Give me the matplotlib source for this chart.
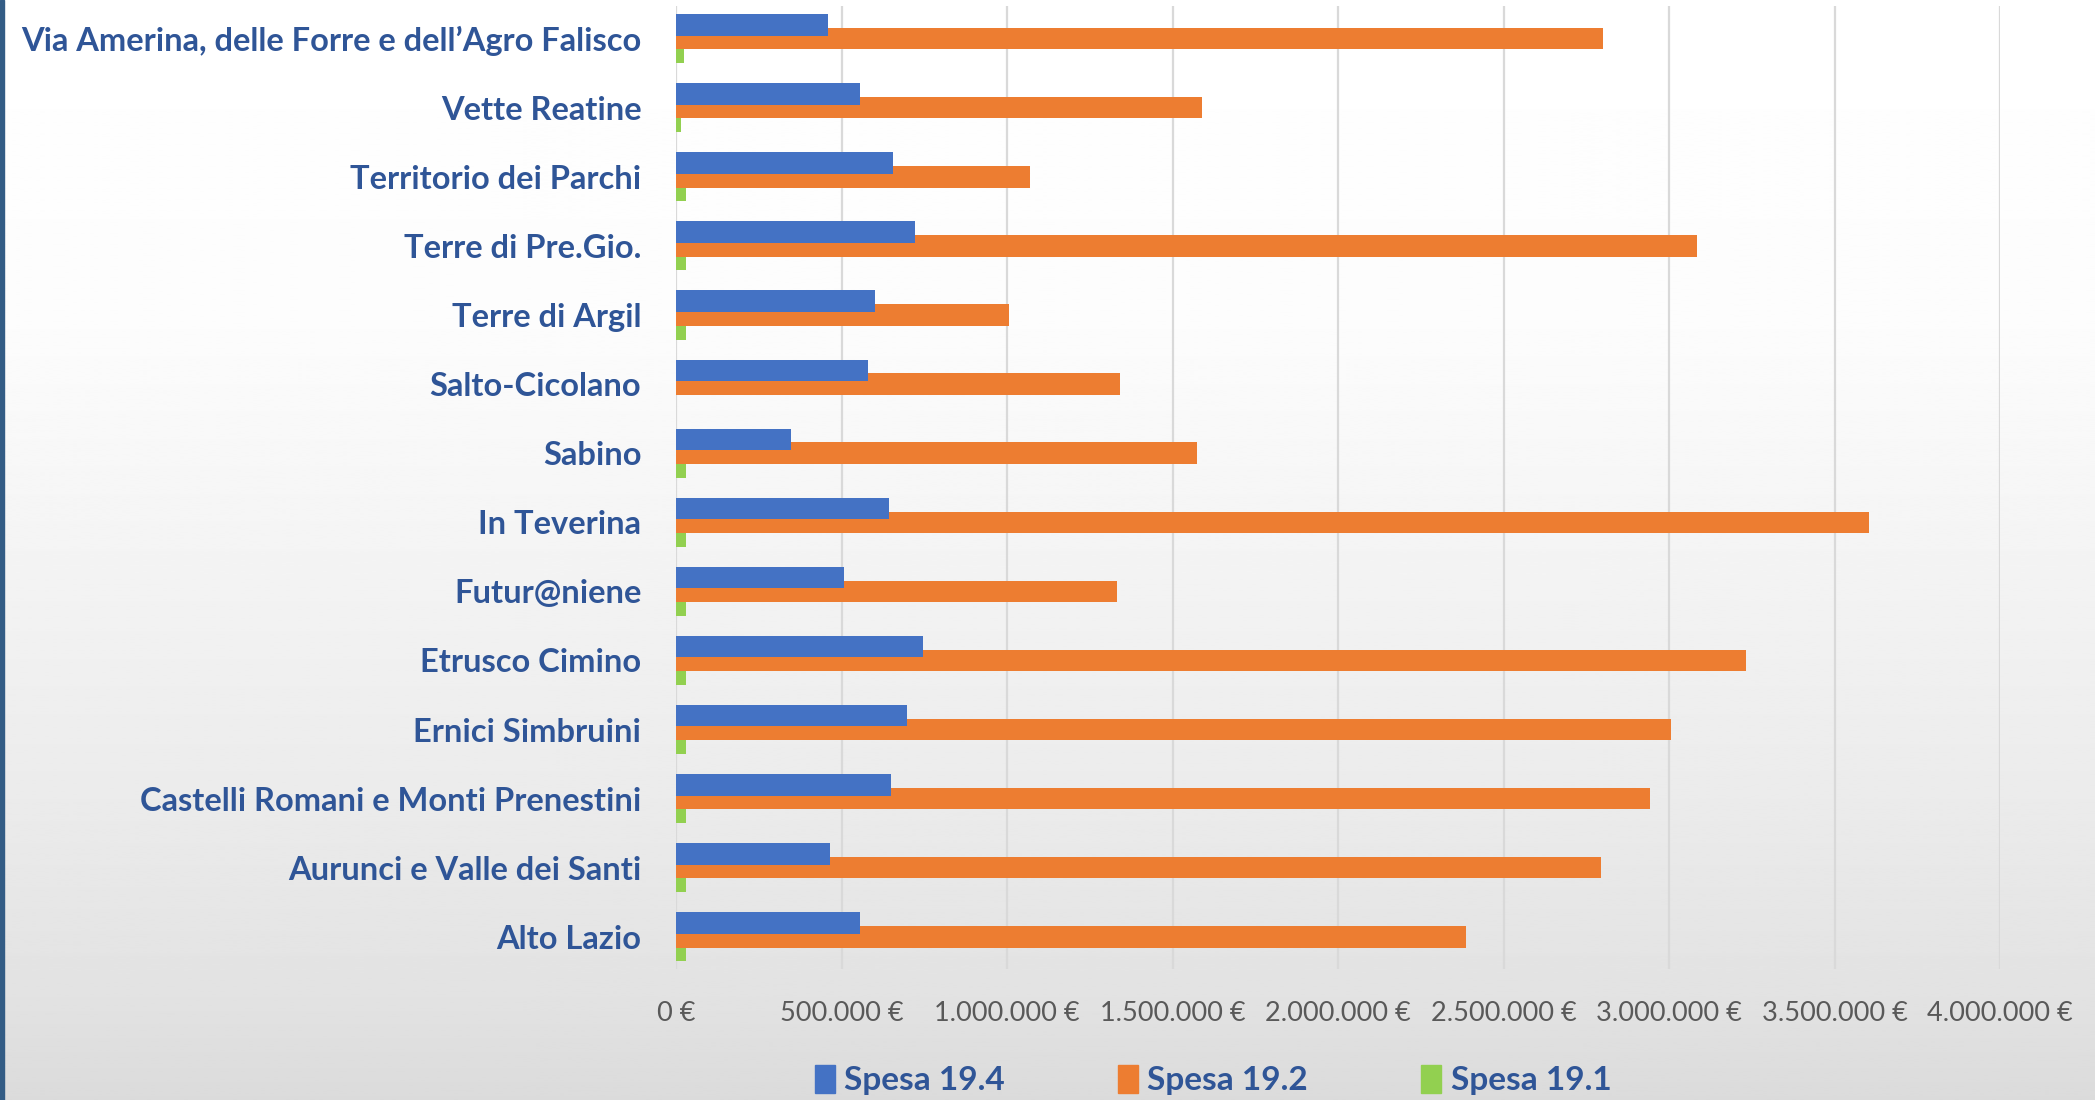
import matplotlib.pyplot as plt
import numpy as np
from matplotlib.patches import Patch, Rectangle

# dati (categorie dal basso verso l'alto, come nel grafico)
gal = ['Alto Lazio', 'Aurunci e Valle dei Santi', 'Castelli Romani e Monti Prenestini',
       'Ernici Simbruini', 'Etrusco Cimino', 'Futur@niene', 'In Teverina', 'Sabino',
       'Salto-Cicolano', 'Terre di Argil', 'Terre di Pre.Gio.', 'Territorio dei Parchi',
       'Vette Reatine', "Via Amerina, delle Forre e dell\u2019Agro Falisco"]
spesa_194 = [557000, 464000, 650000, 698000, 747000, 508000, 642000, 347000,
             581000, 601000, 722000, 654000, 557000, 460000]
spesa_192 = [2385000, 2793000, 2942000, 3006000, 3232000, 1332000, 3604000, 1574000,
             1340000, 1005000, 3083000, 1069000, 1590000, 2800000]
spesa_191 = [30000, 30000, 30000, 30000, 30000, 30000, 30000, 30000,
             0, 30000, 30000, 30000, 16000, 25000]
serie = ['Spesa 19.4', 'Spesa 19.2', 'Spesa 19.1']
tick_vals = [0, 500000, 1000000, 1500000, 2000000, 2500000, 3000000, 3500000, 4000000]

blu = '#4472C4'
arancio = '#ED7D31'
verde = '#92D050'
testo = '#2F5597'

plt.rcParams['font.family'] = ['Lato', 'DejaVu Sans']

fig = plt.figure(figsize=(20.95, 11), dpi=100)

# sfondo sfumato
bg = fig.add_axes([0, 0, 1, 1], zorder=-10)
yy = np.linspace(0, 1, 400)
grad = np.interp(yy, [0, 0.3, 0.55, 0.73, 0.91, 1.0], [255, 252, 242, 235, 226, 219]) / 255
bg.imshow(np.repeat(grad[:, None], 2, axis=1), cmap='gray', vmin=0, vmax=1,
          aspect='auto', extent=[0, 1, 1, 0])
bg.set_xlim(0, 1)
bg.set_ylim(1, 0)
bg.axis('off')
fig.add_artist(Rectangle((0, 0), 4 / 2095, 1, transform=fig.transFigure,
                         color='#335C85', zorder=5))

ax = fig.add_axes([0.3227, 0.1191, 0.632, 0.875])
ax.set_facecolor('none')

y = np.arange(len(gal))
h = 0.31
d = 0.2
ax.barh(y - d, spesa_191, height=h, color=verde, zorder=2)
ax.barh(y, spesa_192, height=h, color=arancio, zorder=3)
ax.barh(y + d, spesa_194, height=h, color=blu, zorder=4)

ax.set_xlim(0, 4000000)
ax.set_ylim(-0.465, 13.465)
ax.set_xticks(tick_vals)
ax.set_xticklabels([f'{v:,.0f} \u20ac'.replace(',', '.') for v in tick_vals],
                   fontsize=19.5, color='#595959')
ax.set_yticks(y)
ax.set_yticklabels(gal, fontsize=23.5, fontweight='bold', color=testo)
ax.tick_params(axis='x', length=0, pad=23)
ax.tick_params(axis='y', length=0, pad=25)
for s in ax.spines.values():
    s.set_visible(False)
ax.grid(axis='x', color='#D9D9D9', linewidth=1.6, zorder=0)
ax.set_axisbelow(True)

handles = [Patch(color=blu), Patch(color=arancio), Patch(color=verde)]
fig.legend(handles, serie, loc='center', bbox_to_anchor=(0.579, 0.018), ncol=3,
           frameon=False, handlelength=0.6, handleheight=0.9, handletextpad=0.28,
           columnspacing=3.4, prop={'size': 24, 'weight': 'bold'}, labelcolor=testo)

plt.savefig('out.png', dpi=100)
